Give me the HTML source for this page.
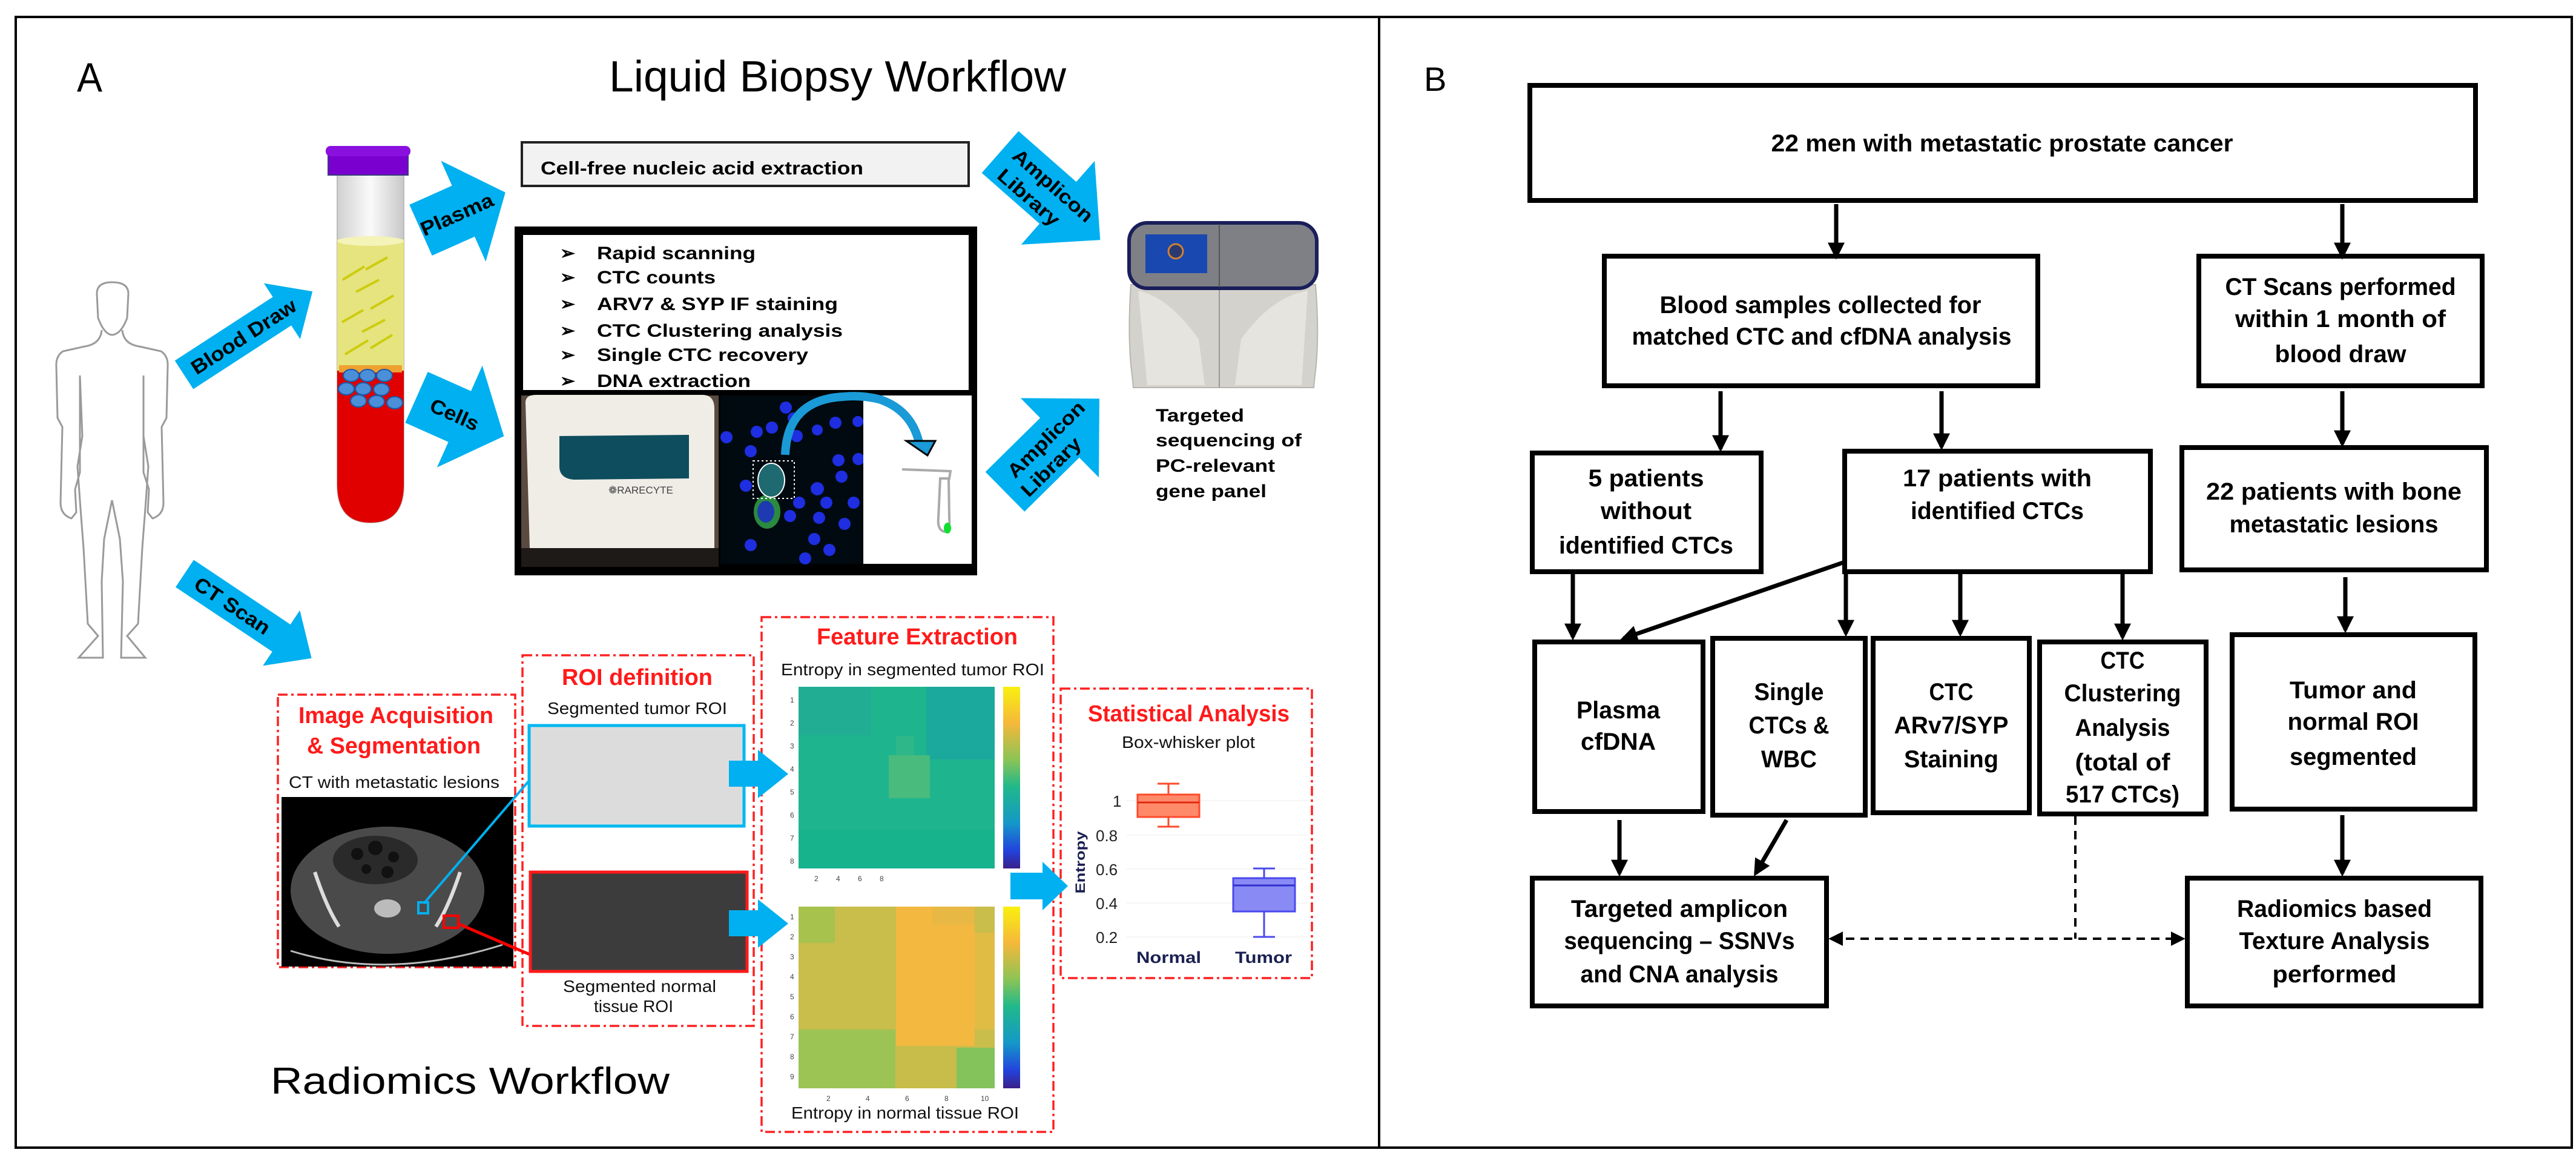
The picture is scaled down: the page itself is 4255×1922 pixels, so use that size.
<!DOCTYPE html>
<html><head><meta charset="utf-8"><style>
html,body{margin:0;padding:0;background:#fff;}
svg{display:block;font-family:"Liberation Sans",sans-serif;}
</style></head><body>
<svg width="4255" height="1922" viewBox="0 0 4255 1922" xmlns="http://www.w3.org/2000/svg">
<defs>
<marker id="ah" markerUnits="userSpaceOnUse" markerWidth="28" markerHeight="28" viewBox="0 0 10 10" refX="8" refY="5" orient="auto"><path d="M0,0 L10,5 L0,10 z" fill="#000"/></marker>
<marker id="ahd" markerUnits="userSpaceOnUse" markerWidth="24" markerHeight="24" viewBox="0 0 10 10" refX="8" refY="5" orient="auto-start-reverse"><path d="M0,0 L10,5 L0,10 z" fill="#000"/></marker>
<linearGradient id="cb" x1="0" y1="0" x2="0" y2="1">
<stop offset="0" stop-color="#f9f00f"/><stop offset="0.2" stop-color="#f5b83a"/><stop offset="0.4" stop-color="#8cc455"/><stop offset="0.55" stop-color="#21b88a"/><stop offset="0.75" stop-color="#1598c8"/><stop offset="0.9" stop-color="#2244dd"/><stop offset="1" stop-color="#3a1f8a"/></linearGradient>
<linearGradient id="glass" x1="0" y1="0" x2="1" y2="0"><stop offset="0" stop-color="#d0d0d0"/><stop offset="0.5" stop-color="#fafafa"/><stop offset="1" stop-color="#c8c8c8"/></linearGradient>
</defs>

<rect x="26" y="28" width="4222" height="1867" fill="none" stroke="#000" stroke-width="4"/>
<line x1="2278" y1="28" x2="2278" y2="1895" stroke="#000" stroke-width="4"/>

<text x="127" y="151" font-size="68" textLength="42" lengthAdjust="spacingAndGlyphs">A</text>
<text x="1006" y="151" font-size="72" textLength="755" lengthAdjust="spacingAndGlyphs">Liquid Biopsy Workflow</text>

<g fill="none" stroke="#9a9a9a" stroke-width="3">
<path d="M185,466 Q160,466 160,485 L162,525 Q172,552 185,553 Q200,552 210,525 L212,485 Q212,466 185,466 Z"/>
<path d="M168,545 Q166,568 140,572 L104,580 Q92,588 93,605 L95,690 L103,705 L100,830 Q100,850 118,856 L126,846 L124,808 L132,780 L132,620 M132,620 L136,720 L128,770 L133,840 L138,905 L145,1030 L162,1050 L130,1086 L170,1086 L168,960 L172,890 L185,826 L198,890 L203,960 L200,1086 L240,1086 L210,1050 L228,1030 L235,905 L240,840 L245,770 L237,720 L237,620 M237,620 L237,780 L246,808 L244,846 L252,856 Q270,850 270,830 L267,705 L275,690 L277,605 Q278,588 266,580 L230,572 Q204,568 202,545"/>
</g>

<g>
<path d="M557,289 L557,800 Q557,863 612,863 Q667,863 667,800 L667,289 Z" fill="url(#glass)" stroke="#bbb" stroke-width="2"/>
<path d="M557,395 L667,395 L667,800 Q667,863 612,863 Q557,863 557,800 Z" fill="#e6e47e"/>
<ellipse cx="612" cy="398" rx="55" ry="8" fill="#f4f3b8"/>
<path d="M557,612 L667,612 L667,800 Q667,863 612,863 Q557,863 557,800 Z" fill="#e00000"/>
<rect x="560" y="603" width="104" height="12" fill="#f0a030"/>
<g fill="#4a8fd8" stroke="#1a5aa8" stroke-width="2">
<ellipse cx="580" cy="620" rx="13" ry="10"/><ellipse cx="607" cy="620" rx="13" ry="10"/><ellipse cx="635" cy="620" rx="13" ry="10"/>
<ellipse cx="572" cy="642" rx="13" ry="10"/><ellipse cx="600" cy="642" rx="13" ry="10"/><ellipse cx="630" cy="643" rx="13" ry="10"/>
<ellipse cx="592" cy="662" rx="13" ry="10"/><ellipse cx="622" cy="663" rx="13" ry="10"/><ellipse cx="652" cy="665" rx="13" ry="10"/>
</g>
<g stroke="#cccc10" stroke-width="4" fill="none">
<path d="M566,462 L602,440 M604,445 L640,425 M588,482 L626,462 M565,532 L600,512 M612,510 L650,488 M598,548 L636,528 M570,585 L608,562 M612,575 L648,553"/>
</g>
<rect x="542" y="254" width="132" height="35" fill="#7a00d0" stroke="#3a3a7a" stroke-width="2"/>
<rect x="538" y="241" width="140" height="17" rx="8" fill="#8a10e0"/>
</g>

<g fill="#00b0f0">
<g transform="translate(304,619) rotate(-33)"><polygon points="0,-28 193,-28 193,-55 253,0 193,55 193,28 0,28"/><text x="117" y="12" font-size="33" font-weight="bold" text-anchor="middle" fill="#000" textLength="200" lengthAdjust="spacingAndGlyphs">Blood Draw</text></g>
<g transform="translate(695,380) rotate(-24)"><polygon points="0,-46 77,-46 77,-91 153,0 77,91 77,46 0,46"/><text x="65" y="12" font-size="33" font-weight="bold" text-anchor="middle" fill="#000" textLength="128" lengthAdjust="spacingAndGlyphs">Plasma</text></g>
<g transform="translate(688,656) rotate(24)"><polygon points="0,-46 78,-46 78,-92 158,0 78,92 78,46 0,46"/><text x="69" y="12" font-size="33" font-weight="bold" text-anchor="middle" fill="#000" textLength="85" lengthAdjust="spacingAndGlyphs">Cells</text></g>
<g transform="translate(305,947) rotate(33.7)"><polygon points="0,-27 192,-27 192,-55 252,0 192,55 192,27 0,27"/><text x="95" y="12" font-size="33" font-weight="bold" text-anchor="middle" fill="#000" textLength="143" lengthAdjust="spacingAndGlyphs">CT Scan</text></g>
<g transform="translate(1652,251) rotate(41.3)"><polygon points="0,-46 127,-46 127,-92 220,0 127,92 127,46 0,46"/><text x="102" y="-5" font-size="32" font-weight="bold" text-anchor="middle" fill="#000" textLength="165" lengthAdjust="spacingAndGlyphs">Amplicon</text><text x="85" y="36" font-size="32" font-weight="bold" text-anchor="middle" fill="#000" textLength="125" lengthAdjust="spacingAndGlyphs">Library</text></g>
<g transform="translate(1660,812) rotate(-44.6)"><polygon points="0,-46 127,-46 127,-92 219,0 127,92 127,46 0,46"/><text x="109" y="-3" font-size="32" font-weight="bold" text-anchor="middle" fill="#000" textLength="165" lengthAdjust="spacingAndGlyphs">Amplicon</text><text x="83" y="35" font-size="32" font-weight="bold" text-anchor="middle" fill="#000" textLength="125" lengthAdjust="spacingAndGlyphs">Library</text></g>
</g>

<rect x="862" y="235" width="738" height="72" fill="#f2f2f2" stroke="#222" stroke-width="4"/>
<text x="893" y="288" font-size="31" font-weight="bold" textLength="533" lengthAdjust="spacingAndGlyphs">Cell-free nucleic acid extraction</text>

<rect x="850" y="374" width="764" height="576" fill="#000"/>
<rect x="864" y="388" width="736" height="256" fill="#fff"/>
<g font-size="30" font-weight="bold">
<text x="925" y="428">➢</text><text x="986" y="428" textLength="262" lengthAdjust="spacingAndGlyphs">Rapid scanning</text>
<text x="925" y="468">➢</text><text x="986" y="468" textLength="196" lengthAdjust="spacingAndGlyphs">CTC counts</text>
<text x="925" y="512">➢</text><text x="986" y="512" textLength="398" lengthAdjust="spacingAndGlyphs">ARV7 &amp; SYP IF staining</text>
<text x="925" y="556">➢</text><text x="986" y="556" textLength="406" lengthAdjust="spacingAndGlyphs">CTC Clustering analysis</text>
<text x="925" y="596">➢</text><text x="986" y="596" textLength="349" lengthAdjust="spacingAndGlyphs">Single CTC recovery</text>
<text x="925" y="639">➢</text><text x="986" y="639" textLength="254" lengthAdjust="spacingAndGlyphs">DNA extraction</text>
</g>
<rect x="861" y="653" width="326" height="283" fill="#5a4a40"/>
<path d="M868,665 Q868,652 885,652 L1160,652 Q1180,652 1180,675 L1180,905 L875,905 Z" fill="#efede6"/>
<path d="M924,720 L1138,718 L1138,790 L948,792 Q924,790 924,770 Z" fill="#0e4d5e"/>
<text x="1005" y="815" font-size="17" fill="#444">❁RARECYTE</text>
<rect x="861" y="905" width="326" height="31" fill="#1e1a18"/>
<rect x="1190" y="653" width="235" height="278" fill="#010a10"/>
<g fill="#1e2ee0">
<circle cx="1298" cy="673" r="10"/><circle cx="1250" cy="713" r="10"/><circle cx="1275" cy="706" r="10"/><circle cx="1310" cy="690" r="9"/><circle cx="1380" cy="698" r="10"/><circle cx="1350" cy="710" r="9"/><circle cx="1200" cy="722" r="10"/><circle cx="1240" cy="745" r="10"/><circle cx="1316" cy="720" r="10"/><circle cx="1417" cy="696" r="9"/><circle cx="1385" cy="760" r="10"/><circle cx="1418" cy="758" r="10"/><circle cx="1390" cy="787" r="10"/><circle cx="1232" cy="802" r="10"/><circle cx="1350" cy="807" r="11"/><circle cx="1365" cy="830" r="10"/><circle cx="1320" cy="830" r="10"/><circle cx="1410" cy="830" r="10"/><circle cx="1353" cy="855" r="10"/><circle cx="1305" cy="852" r="10"/><circle cx="1395" cy="865" r="10"/><circle cx="1345" cy="890" r="10"/><circle cx="1370" cy="908" r="10"/><circle cx="1240" cy="900" r="10"/><circle cx="1330" cy="922" r="10"/>
</g>
<ellipse cx="1267" cy="845" rx="22" ry="28" fill="#2a8a40"/><ellipse cx="1265" cy="845" rx="14" ry="18" fill="#1e3ab0"/>
<ellipse cx="1274" cy="793" rx="22" ry="28" fill="#1e6a70" stroke="#fff" stroke-width="2"/>
<rect x="1244" y="761" width="68" height="62" fill="none" stroke="#fff" stroke-width="2" stroke-dasharray="3 4"/>
<rect x="1426" y="653" width="179" height="278" fill="#fff"/>
<path d="M1490,775 L1570,778 L1568,790 L1553,790 L1550,855 Q1548,875 1560,878 Q1570,875 1568,855 L1567,790" fill="none" stroke="#aaa" stroke-width="4"/>
<ellipse cx="1565" cy="872" rx="6" ry="9" fill="#10e030"/>
<path d="M1297,751 Q1300,660 1393,655 Q1425,652 1455,660 Q1510,680 1520,740" fill="none" stroke="#1a9ad6" stroke-width="14"/>
<polygon points="1497,728 1545,728 1532,752" fill="#1a9ad6" stroke="#000" stroke-width="3"/>

<g>
<path d="M1868,470 Q1862,560 1870,620 L1872,640 L2170,640 L2172,620 Q2180,560 2173,470 Z" fill="#d4d2cc" stroke="#b8b6b0" stroke-width="2"/>
<path d="M1880,480 Q1930,490 1980,560 L1990,636 L1895,636 Z" fill="#e6e4de"/>
<path d="M2160,480 Q2100,490 2050,560 L2040,636 L2150,636 Z" fill="#e6e4de"/>
<line x1="2014" y1="470" x2="2014" y2="640" stroke="#999" stroke-width="2"/>
<rect x="1865" y="368" width="310" height="108" rx="30" fill="#7e8086" stroke="#1a1f5a" stroke-width="6"/>
<rect x="1892" y="387" width="102" height="64" fill="#1848b0"/>
<circle cx="1942" cy="415" r="12" fill="#2a3a70" stroke="#d08030" stroke-width="3"/>
<line x1="2014" y1="370" x2="2014" y2="474" stroke="#555" stroke-width="2"/>
</g>
<g font-size="30" font-weight="bold">
<text x="1909" y="696" textLength="146" lengthAdjust="spacingAndGlyphs">Targeted</text>
<text x="1909" y="737" textLength="241" lengthAdjust="spacingAndGlyphs">sequencing of</text>
<text x="1909" y="779" textLength="197" lengthAdjust="spacingAndGlyphs">PC-relevant</text>
<text x="1909" y="821" textLength="183" lengthAdjust="spacingAndGlyphs">gene panel</text>
</g>

<g fill="none" stroke="#ff2020" stroke-width="3.5" stroke-dasharray="16 6 4 6">
<rect x="459" y="1147" width="392" height="450"/>
<rect x="863" y="1082" width="382" height="612"/>
<rect x="1258" y="1019" width="482" height="850"/>
<rect x="1752" y="1137" width="415" height="478"/>
</g>
<g font-weight="bold" fill="#ff1a1a" font-size="38">
<text x="493" y="1194" textLength="322" lengthAdjust="spacingAndGlyphs">Image Acquisition</text>
<text x="507" y="1244" textLength="287" lengthAdjust="spacingAndGlyphs">&amp; Segmentation</text>
<text x="928" y="1131" textLength="249" lengthAdjust="spacingAndGlyphs">ROI definition</text>
<text x="1349" y="1064" textLength="332" lengthAdjust="spacingAndGlyphs">Feature Extraction</text>
<text x="1797" y="1191" textLength="333" lengthAdjust="spacingAndGlyphs">Statistical Analysis</text>
</g>
<g font-size="28" fill="#111">
<text x="477" y="1301" textLength="348" lengthAdjust="spacingAndGlyphs">CT with metastatic lesions</text>
<text x="904" y="1179" textLength="297" lengthAdjust="spacingAndGlyphs">Segmented tumor ROI</text>
<text x="930" y="1638" textLength="253" lengthAdjust="spacingAndGlyphs">Segmented normal</text>
<text x="981" y="1671" textLength="131" lengthAdjust="spacingAndGlyphs">tissue ROI</text>
<text x="1290" y="1115" textLength="435" lengthAdjust="spacingAndGlyphs">Entropy in segmented tumor ROI</text>
<text x="1307" y="1847" textLength="376" lengthAdjust="spacingAndGlyphs">Entropy in normal tissue ROI</text>
<text x="1853" y="1235" textLength="220" lengthAdjust="spacingAndGlyphs">Box-whisker plot</text>
</g>
<rect x="465" y="1316" width="383" height="280" fill="#000"/>
<ellipse cx="640" cy="1470" rx="160" ry="105" fill="#4a4a4a"/>
<ellipse cx="620" cy="1420" rx="70" ry="40" fill="#2a2a2a"/>
<g fill="#111"><circle cx="590" cy="1410" r="10"/><circle cx="620" cy="1400" r="12"/><circle cx="650" cy="1415" r="9"/><circle cx="605" cy="1435" r="8"/><circle cx="640" cy="1440" r="10"/></g>
<path d="M520,1440 Q540,1500 560,1530 M760,1440 Q740,1500 720,1530" stroke="#ddd" stroke-width="6" fill="none"/>
<ellipse cx="640" cy="1500" rx="22" ry="15" fill="#bbb"/>
<path d="M480,1570 Q640,1620 830,1560" stroke="#bbb" stroke-width="3" fill="none"/>
<rect x="691" y="1490" width="16" height="18" fill="none" stroke="#00b0f0" stroke-width="4"/>
<rect x="733" y="1512" width="24" height="20" fill="none" stroke="#ff0000" stroke-width="4"/>
<line x1="700" y1="1492" x2="892" y2="1268" stroke="#00b0f0" stroke-width="4"/>
<line x1="756" y1="1525" x2="896" y2="1585" stroke="#ff0000" stroke-width="5"/>
<rect x="874" y="1198" width="355" height="166" fill="#dcdcdc" stroke="#00b8f0" stroke-width="5"/>
<rect x="876" y="1440" width="358" height="164" fill="#3c3c3c" stroke="#ff1a1a" stroke-width="5"/>
<rect x="1319" y="1134" width="324" height="300" fill="#1eb58e"/>
<rect x="1530" y="1134" width="113" height="120" fill="#1aa99c"/>
<rect x="1319" y="1134" width="120" height="80" fill="#20ad94"/>
<rect x="1468" y="1247" width="68" height="71" fill="#49bb7c"/>
<rect x="1480" y="1215" width="30" height="32" fill="#2eb788"/>
<rect x="1319" y="1370" width="324" height="64" fill="#17b38c"/>
<rect x="1657" y="1134" width="28" height="300" fill="url(#cb)"/>
<rect x="1319" y="1497" width="324" height="300" fill="#c9bd4c"/>
<rect x="1480" y="1497" width="130" height="230" fill="#f2b840"/>
<rect x="1540" y="1497" width="70" height="30" fill="#e8b844"/>
<rect x="1610" y="1540" width="33" height="160" fill="#e0bc44"/>
<rect x="1319" y="1497" width="60" height="60" fill="#a8c24e"/>
<rect x="1319" y="1700" width="160" height="97" fill="#9cc454"/>
<rect x="1580" y="1730" width="63" height="67" fill="#84c25c"/>
<rect x="1479" y="1727" width="100" height="70" fill="#c8bc4a"/>
<rect x="1657" y="1497" width="28" height="300" fill="url(#cb)"/>
<g font-size="12" fill="#444">
<text x="1305" y="1160">1</text><text x="1305" y="1198">2</text><text x="1305" y="1236">3</text><text x="1305" y="1274">4</text><text x="1305" y="1312">5</text><text x="1305" y="1350">6</text><text x="1305" y="1388">7</text><text x="1305" y="1426">8</text>
<text x="1345" y="1455">2</text><text x="1381" y="1455">4</text><text x="1417" y="1455">6</text><text x="1453" y="1455">8</text>
<text x="1305" y="1518">1</text><text x="1305" y="1551">2</text><text x="1305" y="1584">3</text><text x="1305" y="1617">4</text><text x="1305" y="1650">5</text><text x="1305" y="1683">6</text><text x="1305" y="1716">7</text><text x="1305" y="1749">8</text><text x="1305" y="1782">9</text>
<text x="1365" y="1818">2</text><text x="1430" y="1818">4</text><text x="1495" y="1818">6</text><text x="1560" y="1818">8</text><text x="1620" y="1818">10</text>
</g>
<g fill="#00b0f0">
<polygon points="1204,1256 1252,1256 1252,1238 1302,1278 1252,1318 1252,1299 1204,1299"/>
<polygon points="1204,1503 1252,1503 1252,1485 1302,1525 1252,1565 1252,1546 1204,1546"/>
<polygon points="1669,1441 1722,1441 1722,1423 1764,1463 1722,1503 1722,1485 1669,1485"/>
</g>
<g stroke="#eee" stroke-width="1"><line x1="1860" y1="1322" x2="2160" y2="1322"/><line x1="1860" y1="1379" x2="2160" y2="1379"/><line x1="1860" y1="1435" x2="2160" y2="1435"/><line x1="1860" y1="1491" x2="2160" y2="1491"/><line x1="1860" y1="1547" x2="2160" y2="1547"/></g>
<g stroke="#ff4a2a" stroke-width="3"><line x1="1930" y1="1294" x2="1930" y2="1365"/><line x1="1912" y1="1294" x2="1948" y2="1294"/><line x1="1912" y1="1365" x2="1948" y2="1365"/></g>
<rect x="1879" y="1312" width="102" height="37" fill="#ff8a6a" stroke="#ff4a2a" stroke-width="3"/>
<line x1="1879" y1="1325" x2="1981" y2="1325" stroke="#e02a10" stroke-width="3"/>
<g stroke="#4a4aee" stroke-width="3"><line x1="2088" y1="1434" x2="2088" y2="1547"/><line x1="2070" y1="1434" x2="2106" y2="1434"/><line x1="2070" y1="1547" x2="2106" y2="1547"/></g>
<rect x="2037" y="1450" width="102" height="55" fill="#8a8af5" stroke="#4a4aee" stroke-width="3"/>
<line x1="2037" y1="1462" x2="2139" y2="1462" stroke="#3030d0" stroke-width="3"/>
<g font-size="26" fill="#222">
<text x="1838" y="1332">1</text><text x="1810" y="1389">0.8</text><text x="1810" y="1445">0.6</text><text x="1810" y="1501">0.4</text><text x="1810" y="1557">0.2</text>
</g>
<text transform="translate(1792,1424) rotate(-90)" font-size="22" font-weight="bold" fill="#1a2050" text-anchor="middle" textLength="103" lengthAdjust="spacingAndGlyphs">Entropy</text>
<text x="1877" y="1590" font-size="27" font-weight="bold" fill="#1a2050" textLength="107" lengthAdjust="spacingAndGlyphs">Normal</text>
<text x="2040" y="1590" font-size="27" font-weight="bold" fill="#1a2050" textLength="94" lengthAdjust="spacingAndGlyphs">Tumor</text>

<text x="447" y="1806" font-size="62" textLength="659" lengthAdjust="spacingAndGlyphs">Radiomics Workflow</text>

<text x="2352" y="150" font-size="56">B</text>
<g fill="#fff" stroke="#000" stroke-width="8">
<rect x="2527" y="141" width="1562" height="190"/>
<rect x="2650" y="423" width="716" height="214"/>
<rect x="3632" y="423" width="468" height="214"/>
<rect x="2531" y="748" width="378" height="196"/>
<rect x="3047" y="745" width="505" height="199"/>
<rect x="3604" y="739" width="503" height="202"/>
<rect x="2535" y="1060" width="278" height="280"/>
<rect x="2829" y="1054" width="252" height="292"/>
<rect x="3094" y="1054" width="258" height="288"/>
<rect x="3369" y="1060" width="275" height="284"/>
<rect x="3687" y="1048" width="401" height="288"/>
<rect x="2531" y="1450" width="486" height="211"/>
<rect x="3613" y="1450" width="485" height="211"/>
</g>
<g font-size="40" font-weight="bold" text-anchor="middle">
<text x="3307" y="250" textLength="763" lengthAdjust="spacingAndGlyphs">22 men with metastatic prostate cancer</text>
<text x="3007" y="517" textLength="531" lengthAdjust="spacingAndGlyphs">Blood samples collected for</text>
<text x="3009" y="569" textLength="627" lengthAdjust="spacingAndGlyphs">matched CTC and cfDNA analysis</text>
<text x="3866" y="487" textLength="381" lengthAdjust="spacingAndGlyphs">CT Scans performed</text>
<text x="3866" y="540" textLength="348" lengthAdjust="spacingAndGlyphs">within 1 month of</text>
<text x="3866" y="598" textLength="217" lengthAdjust="spacingAndGlyphs">blood draw</text>
<text x="2719" y="803" textLength="191" lengthAdjust="spacingAndGlyphs">5 patients</text>
<text x="2719" y="857" textLength="150" lengthAdjust="spacingAndGlyphs">without</text>
<text x="2719" y="914" textLength="288" lengthAdjust="spacingAndGlyphs">identified CTCs</text>
<text x="3299" y="803" textLength="312" lengthAdjust="spacingAndGlyphs">17 patients with</text>
<text x="3299" y="857" textLength="286" lengthAdjust="spacingAndGlyphs">identified CTCs</text>
<text x="3855" y="825" textLength="422" lengthAdjust="spacingAndGlyphs">22 patients with bone</text>
<text x="3855" y="879" textLength="345" lengthAdjust="spacingAndGlyphs">metastatic lesions</text>
<text x="2673" y="1186" textLength="138" lengthAdjust="spacingAndGlyphs">Plasma</text>
<text x="2673" y="1238" textLength="124" lengthAdjust="spacingAndGlyphs">cfDNA</text>
<text x="2955" y="1156" textLength="115" lengthAdjust="spacingAndGlyphs">Single</text>
<text x="2955" y="1211" textLength="133" lengthAdjust="spacingAndGlyphs">CTCs &amp;</text>
<text x="2955" y="1267" textLength="92" lengthAdjust="spacingAndGlyphs">WBC</text>
<text x="3223" y="1156" textLength="73" lengthAdjust="spacingAndGlyphs">CTC</text>
<text x="3223" y="1211" textLength="189" lengthAdjust="spacingAndGlyphs">ARv7/SYP</text>
<text x="3223" y="1267" textLength="156" lengthAdjust="spacingAndGlyphs">Staining</text>
<text x="3506" y="1104" textLength="73" lengthAdjust="spacingAndGlyphs">CTC</text>
<text x="3506" y="1158" textLength="193" lengthAdjust="spacingAndGlyphs">Clustering</text>
<text x="3506" y="1215" textLength="157" lengthAdjust="spacingAndGlyphs">Analysis</text>
<text x="3506" y="1272" textLength="157" lengthAdjust="spacingAndGlyphs">(total of</text>
<text x="3506" y="1325" textLength="188" lengthAdjust="spacingAndGlyphs">517 CTCs)</text>
<text x="3887" y="1153" textLength="210" lengthAdjust="spacingAndGlyphs">Tumor and</text>
<text x="3887" y="1205" textLength="217" lengthAdjust="spacingAndGlyphs">normal ROI</text>
<text x="3887" y="1263" textLength="210" lengthAdjust="spacingAndGlyphs">segmented</text>
<text x="2774" y="1514" textLength="358" lengthAdjust="spacingAndGlyphs">Targeted amplicon</text>
<text x="2774" y="1567" textLength="381" lengthAdjust="spacingAndGlyphs">sequencing – SSNVs</text>
<text x="2774" y="1622" textLength="327" lengthAdjust="spacingAndGlyphs">and CNA analysis</text>
<text x="3856" y="1514" textLength="322" lengthAdjust="spacingAndGlyphs">Radiomics based</text>
<text x="3856" y="1567" textLength="315" lengthAdjust="spacingAndGlyphs">Texture Analysis</text>
<text x="3856" y="1622" textLength="205" lengthAdjust="spacingAndGlyphs">performed</text>
</g>
<g stroke="#000" stroke-width="7" marker-end="url(#ah)">
<line x1="3033" y1="337" x2="3033" y2="423"/>
<line x1="3869" y1="337" x2="3869" y2="423"/>
<line x1="2842" y1="646" x2="2842" y2="741"/>
<line x1="3207" y1="646" x2="3207" y2="738"/>
<line x1="3869" y1="646" x2="3869" y2="733"/>
<line x1="2598" y1="944" x2="2598" y2="1052"/>
<line x1="3047" y1="928" x2="2682" y2="1054"/>
<line x1="3049" y1="944" x2="3049" y2="1046"/>
<line x1="3238" y1="944" x2="3238" y2="1046"/>
<line x1="3506" y1="944" x2="3506" y2="1052"/>
<line x1="3874" y1="953" x2="3874" y2="1040"/>
<line x1="2675" y1="1354" x2="2675" y2="1442"/>
<line x1="2951" y1="1354" x2="2900" y2="1442"/>
<line x1="3869" y1="1346" x2="3869" y2="1442"/>
</g>
<g stroke="#000" stroke-width="4" stroke-dasharray="14 10" fill="none">
<line x1="3428" y1="1348" x2="3428" y2="1550"/>
<line x1="3025" y1="1550" x2="3605" y2="1550" marker-start="url(#ahd)" marker-end="url(#ahd)"/>
</g>
</svg>
</body></html>
